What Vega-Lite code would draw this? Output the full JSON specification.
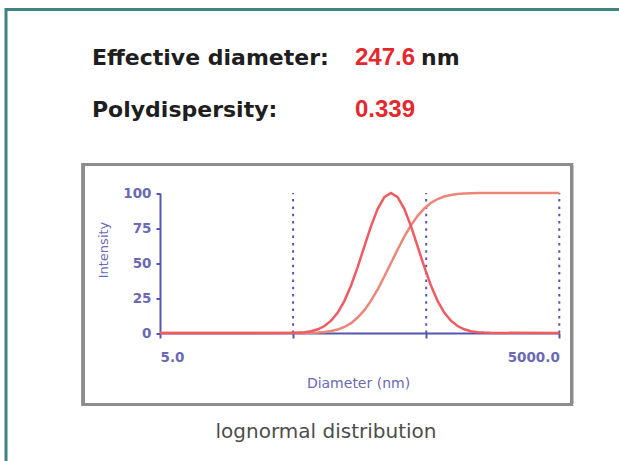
{
  "$schema": "https://vega.github.io/schema/vega-lite/v6.json",
  "width": 640,
  "height": 845,
  "autosize": {"type": "none"},
  "padding": {"left": 6, "top": 9.5, "right": -27, "bottom": -393.5},
  "background": "white",
  "config": {"view": {"stroke": "#3e8282", "strokeWidth": 3}},
  "layer": [
    {
      "data": {"values": [
        {"quantity": "Effective diameter:", "value": "247.6", "unit": "nm"},
        {"quantity": "Polydispersity:", "value": "0.339", "unit": ""}
      ]},
      "layer": [
        {
          "mark": {"type": "text", "font": "DejaVu Sans", "fontWeight": "bold", "fontSize": 22, "align": "left", "baseline": "middle", "color": "#1e1e1e"},
          "encoding": {
            "x": {"datum": "quantity", "type": "nominal", "scale": {"type": "point", "domain": ["quantity", "value"], "range": [86, 349], "padding": 0}, "axis": null},
            "y": {"field": "quantity", "type": "nominal", "scale": {"type": "point", "domain": ["Effective diameter:", "Polydispersity:"], "range": [48.5, 100.5], "padding": 0}, "axis": null},
            "text": {"field": "quantity"}
          }
        },
        {
          "mark": {"type": "text", "font": "Liberation Sans", "fontWeight": "bold", "fontSize": 24, "align": "left", "baseline": "middle", "color": "#e5282d"},
          "encoding": {
            "x": {"datum": "value", "type": "nominal"},
            "y": {"field": "quantity", "type": "nominal"},
            "text": {"field": "value"}
          }
        },
        {
          "mark": {"type": "text", "font": "DejaVu Sans", "fontWeight": "bold", "fontSize": 22, "align": "left", "baseline": "middle", "color": "#1e1e1e", "dx": 66},
          "encoding": {
            "x": {"datum": "value", "type": "nominal"},
            "y": {"field": "quantity", "type": "nominal"},
            "text": {"field": "unit"}
          }
        }
      ]
    },
    {
      "data": {"values": [{"caption": "lognormal distribution"}]},
      "mark": {"type": "text", "font": "DejaVu Sans", "fontSize": 20, "color": "#4d4d4d", "align": "center", "baseline": "middle"},
      "encoding": {"text": {"field": "caption"}}
    },
    {
      "data": {"values": [
        {"d": 5, "intensity": 0, "cumulative": 0},
        {"d": 48.4, "intensity": 0.12, "cumulative": 0.01},
        {"d": 54.3, "intensity": 0.28, "cumulative": 0.03},
        {"d": 60.9, "intensity": 0.62, "cumulative": 0.07},
        {"d": 68.3, "intensity": 1.32, "cumulative": 0.16},
        {"d": 76.7, "intensity": 2.64, "cumulative": 0.35},
        {"d": 86.0, "intensity": 4.96, "cumulative": 0.71},
        {"d": 96.5, "intensity": 8.78, "cumulative": 1.37},
        {"d": 108.3, "intensity": 14.63, "cumulative": 2.5},
        {"d": 121.5, "intensity": 22.95, "cumulative": 4.31},
        {"d": 136.3, "intensity": 33.92, "cumulative": 7.07},
        {"d": 152.9, "intensity": 47.19, "cumulative": 11.02},
        {"d": 171.6, "intensity": 61.84, "cumulative": 16.35},
        {"d": 192.5, "intensity": 76.31, "cumulative": 23.11},
        {"d": 216.0, "intensity": 88.68, "cumulative": 31.2},
        {"d": 242.3, "intensity": 97.04, "cumulative": 40.32},
        {"d": 271.9, "intensity": 100, "cumulative": 50},
        {"d": 305.1, "intensity": 97.04, "cumulative": 59.68},
        {"d": 342.3, "intensity": 88.68, "cumulative": 68.8},
        {"d": 384.1, "intensity": 76.31, "cumulative": 76.89},
        {"d": 431.0, "intensity": 61.84, "cumulative": 83.65},
        {"d": 483.6, "intensity": 47.19, "cumulative": 88.98},
        {"d": 542.6, "intensity": 33.92, "cumulative": 92.93},
        {"d": 608.8, "intensity": 22.95, "cumulative": 95.69},
        {"d": 683.1, "intensity": 14.63, "cumulative": 97.5},
        {"d": 766.4, "intensity": 8.78, "cumulative": 98.63},
        {"d": 859.9, "intensity": 4.96, "cumulative": 99.29},
        {"d": 964.9, "intensity": 2.64, "cumulative": 99.65},
        {"d": 1082.6, "intensity": 1.32, "cumulative": 99.84},
        {"d": 1214.7, "intensity": 0.62, "cumulative": 99.93},
        {"d": 1362.9, "intensity": 0.28, "cumulative": 99.97},
        {"d": 1529.2, "intensity": 0.12, "cumulative": 99.99},
        {"d": 5000, "intensity": 0, "cumulative": 100}
      ]},
      "layer": [
        {
          "mark": {"type": "rect", "filled": false, "stroke": "#8c8c8c", "strokeWidth": 3},
          "encoding": {
            "x": {"datum": 1.33, "type": "quantitative", "scale": {"type": "log", "domain": [5, 5000], "range": [154, 553.3]}},
            "x2": {"datum": 6177},
            "y": {"datum": 120.36, "type": "quantitative", "scale": {"domain": [0, 100], "range": [323.5, 183.5]}},
            "y2": {"datum": -51.07}
          }
        },
        {
          "data": {"values": [{"d": 50}, {"d": 500}, {"d": 5000}]},
          "mark": {"type": "rule", "color": "#5656b0", "strokeWidth": 2, "strokeDash": [2.5, 4.8]},
          "encoding": {
            "x": {"field": "d", "type": "quantitative", "scale": {"type": "log", "domain": [5, 5000], "range": [154, 553.3]}},
            "y": {"datum": 0, "type": "quantitative", "scale": {"domain": [0, 100], "range": [323.5, 183.5]}},
            "y2": {"datum": 100}
          }
        },
        {
          "mark": {"type": "line", "color": "#ec8676", "strokeWidth": 2.5},
          "encoding": {
            "x": {"field": "d", "type": "quantitative", "scale": {"type": "log", "domain": [5, 5000], "range": [154, 553.3]}},
            "y": {"field": "cumulative", "type": "quantitative", "scale": {"domain": [0, 100], "range": [323.5, 183.5]}}
          }
        },
        {
          "mark": {"type": "line", "color": "#ef5b61", "strokeWidth": 2.5},
          "encoding": {
            "x": {
              "field": "d", "type": "quantitative",
              "scale": {"type": "log", "domain": [5, 5000], "range": [154, 553.3]},
              "axis": {
                "orient": "bottom", "offset": -521.5, "values": [5, 50, 500, 5000],
                "labelExpr": "datum.value == 5 || datum.value == 5000 ? format(datum.value, '.1f') : ''",
                "labelFlush": true, "grid": false,
                "domainColor": "#5656b0", "domainWidth": 2,
                "tickColor": "#5656b0", "tickWidth": 2, "tickSize": 5,
                "labelFont": "DejaVu Sans", "labelFontWeight": "bold", "labelFontSize": 13.5, "labelColor": "#6a6ab4",
                "labelBaseline": "middle", "labelPadding": 19,
                "title": "Diameter (nm)", "titleFont": "DejaVu Sans", "titleFontWeight": "normal", "titleFontSize": 14, "titleColor": "#6a6ab4",
                "titleX": 352, "titleY": 50, "titleBaseline": "middle", "titleAlign": "center", "titleAnchor": null
              }
            },
            "y": {
              "field": "intensity", "type": "quantitative",
              "scale": {"domain": [0, 100], "range": [323.5, 183.5]},
              "axis": {
                "orient": "left", "offset": -154, "values": [0, 25, 50, 75, 100], "grid": false,
                "domainColor": "#5656b0", "domainWidth": 2,
                "tickColor": "#5656b0", "tickWidth": 2, "tickSize": 4,
                "labelFont": "DejaVu Sans", "labelFontWeight": "bold", "labelFontSize": 13.5, "labelColor": "#6a6ab4",
                "labelPadding": 5,
                "title": "Intensity", "titleFont": "DejaVu Sans", "titleFontWeight": "normal", "titleFontSize": 13, "titleColor": "#6a6ab4",
                "titleX": -57, "titleY": 240, "titleBaseline": "middle", "titleAlign": "center", "titleAngle": -90
              }
            }
          }
        }
      ]
    }
  ],
  "resolve": {"scale": {"x": "independent", "y": "independent"}}
}
